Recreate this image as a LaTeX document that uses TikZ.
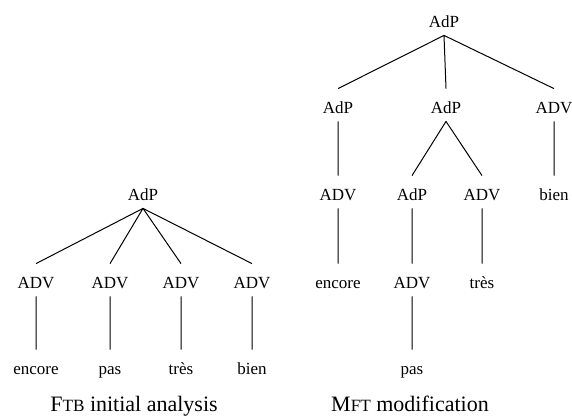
\documentclass[tikz,border=0pt]{standalone}
\usepackage{fontspec}
\setmainfont{Liberation Serif}
\newcommand{\minisc}[1]{{\fontsize{8.6}{10}\selectfont #1}}
\begin{document}
\begin{tikzpicture}[x=0.5pt, y=-0.5pt,
    lab/.style = {anchor=base, font=\fontsize{8.5}{10}\selectfont,
      text height=10.5pt, text depth=2.5pt, inner sep=1.5pt},
    legend/.style = {anchor=base, font=\fontsize{11}{13}\selectfont, inner sep=0pt}]
      \useasboundingbox (0,0) rectangle (572,419);

      % FTB tree
      \node[lab] (fr) at (143,200) {AdP};
      \node[lab] (f1) at (36,288) {ADV};
      \node[lab] (f2) at (110,288) {ADV};
      \node[lab] (f3) at (181,288) {ADV};
      \node[lab] (f4) at (252,288) {ADV};
      \node[lab] (fw1) at (36,374) {encore};
      \node[lab] (fw2) at (110,374) {pas};
      \node[lab] (fw3) at (181,374) {très};
      \node[lab] (fw4) at (252,374) {bien};

      \draw[line width=0.5pt] (fr.south) to (f1.north)
      (fr.south) to (f2.north)
      (fr.south) to (f3.north)
      (fr.south) to (f4.north)
      (f1) to (fw1)
      (f2) to (fw2)
      (f3) to (fw3)
      (f4) to (fw4);

      % MFT tree
      \node[lab] (mr) at (444,27) {AdP};
      \node[lab] (m1) at (338,113) {AdP};
      \node[lab] (m2) at (446,113) {AdP};
      \node[lab] (m3) at (554,113) {ADV};
      \node[lab] (m11) at (338,200) {ADV};
      \node[lab] (m21) at (412,200) {AdP};
      \node[lab] (m22) at (482,200) {ADV};
      \node[lab] (m31) at (554,200) {bien};
      \node[lab] (m111) at (338,288) {encore};
      \node[lab] (m211) at (412,288) {ADV};
      \node[lab] (m221) at (482,288) {très};
      \node[lab] (m2111) at (412,374) {pas};

      \draw[line width=0.5pt] (mr.south) to (m1.north)
      (mr.south) to (m2.north)
      (mr.south) to (m3.north)
      (m1) to (m11)
      (m2.south) to (m21.north)
      (m2.south) to (m22.north)
      (m3) to (m31)
      (m11) to (m111)
      (m21) to (m211)
      (m22) to (m221)
      (m211) to (m2111);

      \node[legend] (fcap) at (134,411) {F\minisc{TB} initial analysis};
      \node[legend] (mcap) at (410,411) {M\minisc{FT} modification};

    \end{tikzpicture}
\end{document}
